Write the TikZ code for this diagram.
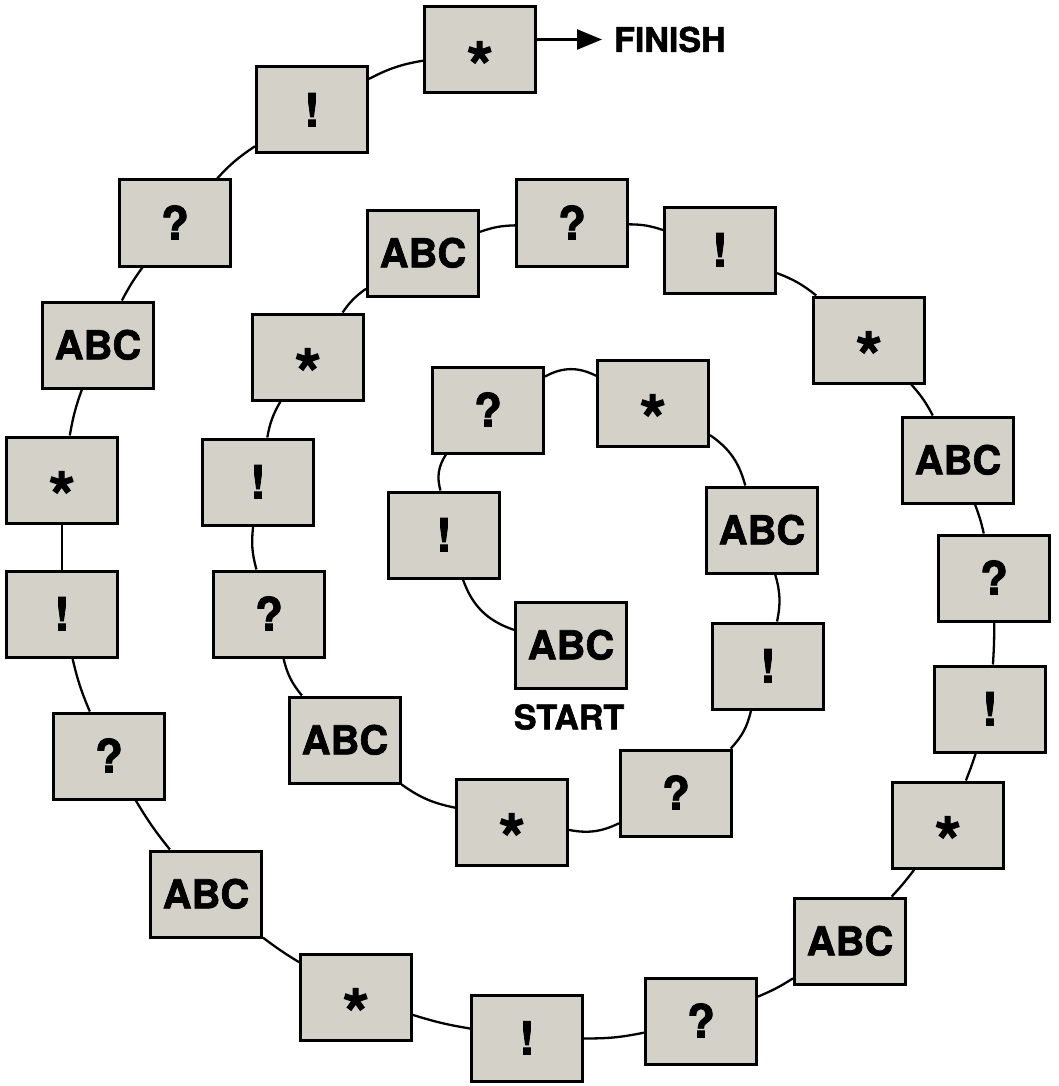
\documentclass[tikz,border=0pt]{standalone}
\usepackage{fontspec}
\setmainfont{TeX Gyre Heros}[BoldFeatures={FakeBold=1.6}]
\usetikzlibrary{arrows.meta}
\definecolor{boxgray}{RGB}{212,209,200}
\newcommand\abctxt{\raisebox{-14.4pt}{\fontsize{40}{40}\selectfont ABC}}
\newcommand\qtxt{\raisebox{-16.5pt}{\fontsize{46}{46}\selectfont ?}}
\newcommand\etxt{\raisebox{-16.5pt}{\fontsize{46}{46}\selectfont !}}
\newcommand\stxt{\raisebox{-41pt}{\fontsize{68}{68}\selectfont *}}
\begin{document}
\begin{tikzpicture}[x=1pt,y=-1pt,
  box/.style={draw=black, line width=3pt, fill=boxgray, minimum width=111pt,
    minimum height=86pt, inner sep=0pt, text height=0pt, text depth=0pt, font=\bfseries},
  link/.style={line width=2.3pt, draw=black},
  label/.style={inner sep=0pt, font=\bfseries\fontsize{34}{34}\selectfont}]
\useasboundingbox (0,0) rectangle (1058,1086);
% inner loop
\node[box] (n1) at (571,645) {\abctxt};
\node[box] (n2) at (444,535) {\etxt};
\node[box] (n3) at (488,410) {\qtxt};
\node[box] (n4) at (653,403) {\stxt};
\node[box] (n5) at (762,530) {\abctxt};
\node[box] (n6) at (768,666) {\etxt};
\node[box] (n7) at (676,793) {\qtxt};
\node[box] (n8) at (512,822) {\stxt};
% middle loop
\node[box] (n9) at (345,740) {\abctxt};
\node[box] (n10) at (269,614) {\qtxt};
\node[box] (n11) at (258,482) {\etxt};
\node[box] (n12) at (308,357) {\stxt};
\node[box] (n13) at (423,253) {\abctxt};
\node[box] (n14) at (572,223) {\qtxt};
\node[box] (n15) at (720,250) {\etxt};
\node[box] (n16) at (869,340) {\stxt};
\node[box] (n17) at (958,460) {\abctxt};
\node[box] (n18) at (994,578) {\qtxt};
\node[box] (n19) at (990,709) {\etxt};
\node[box] (n20) at (948,825) {\stxt};
% outer loop
\node[box] (n21) at (850,941) {\abctxt};
\node[box] (n22) at (701,1021) {\qtxt};
\node[box] (n23) at (527,1038) {\etxt};
\node[box] (n24) at (356,997) {\stxt};
\node[box] (n25) at (206,894) {\abctxt};
\node[box] (n26) at (109,756) {\qtxt};
\node[box] (n27) at (62,614) {\etxt};
\node[box] (n28) at (62,480) {\stxt};
\node[box] (n29) at (98,345) {\abctxt};
\node[box] (n30) at (175,223) {\qtxt};
\node[box] (n31) at (312,110) {\etxt};
\node[box] (n32) at (480,50) {\stxt};
% labels
\node[label] (start) at (569,717) {START};
\node[label, anchor=west] (finish) at (614,39.5) {FINISH};
% connectors
\draw[link] (n1) to[bend left=26] (n2);
\draw[link] (n2) to[bend left=24] (n3);
\draw[link] (n3) to[bend left=28] (n4);
\draw[link] (n4) to[bend left=20] (n5);
\draw[link] (n5) to[bend left=14] (n6);
\draw[link] (n6) to[bend left=15] (n7);
\draw[link] (n7) to[bend left=18] (n8);
\draw[link] (n8) to[bend left=12] (n9);
\draw[link] (n9) to[bend left=13] (n10);
\draw[link] (n10) to[bend left=11] (n11);
\draw[link] (n11) to[bend left=10] (n12);
\draw[link] (n12) to[bend left=10] (n13);
\draw[link] (n13) to[bend left=9] (n14);
\draw[link] (n14) to[bend left=9] (n15);
\draw[link] (n15) to[bend left=9] (n16);
\draw[link] (n16) to[bend left=7] (n17);
\draw[link] (n17) to[bend left=4] (n18);
\draw[link] (n18) to[bend left=2] (n19);
\draw[link] (n19) to[bend left=2] (n20);
\draw[link] (n20) to[bend left=3] (n21);
\draw[link] (n21) to[bend left=5] (n22);
\draw[link] (n22) to[bend left=6] (n23);
\draw[link] (n23) to[bend left=4] (n24);
\draw[link] (n24) to[bend left=3] (n25);
\draw[link] (n25) to[bend left=4] (n26);
\draw[link] (n26) to[bend left=5] (n27);
\draw[link] (n27) -- (n28);
\draw[link] (n28) to[bend left=5] (n29);
\draw[link] (n29) to[bend left=4] (n30);
\draw[link] (n30) to[bend left=7] (n31);
\draw[link] (n31) to[bend left=9] (n32);
\draw[link, -{Triangle[length=25pt,width=20pt]}] (n32.east |- finish.west) -- ([xshift=-12pt]finish.west);
\end{tikzpicture}
\end{document}
